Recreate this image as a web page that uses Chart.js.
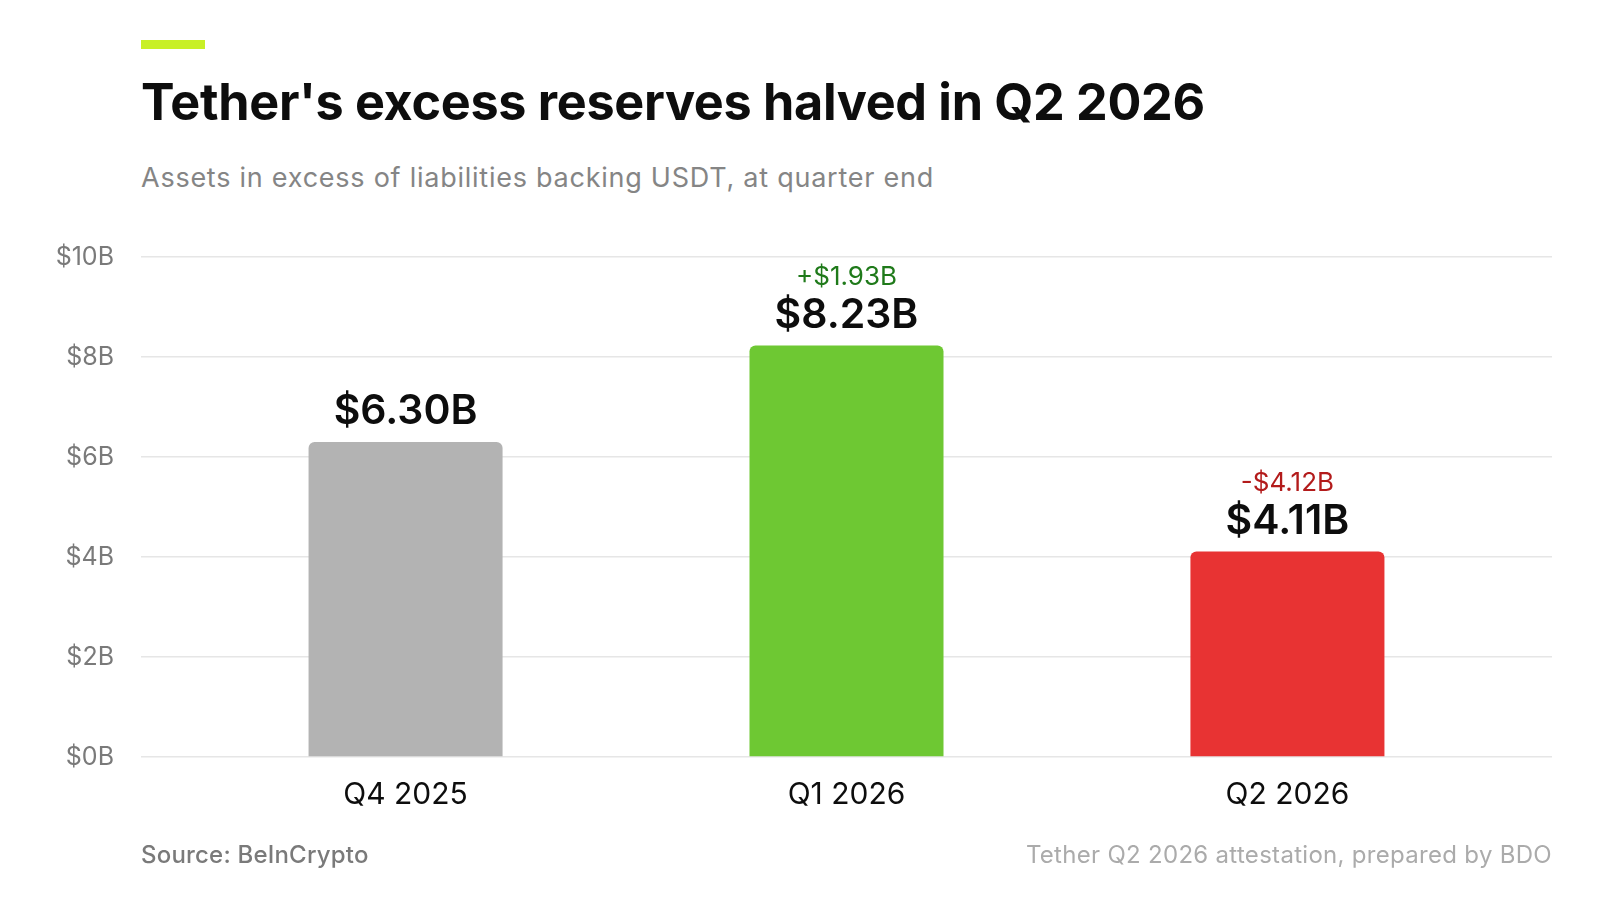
<!DOCTYPE html>
<html>
<head>
<meta charset="utf-8">
<script src="https://cdn.jsdelivr.net/npm/chart.js@4.4.1/dist/chart.umd.min.js"></script>
<style>
  html, body { margin: 0; padding: 0; background: #fff; }
  body { width: 1600px; height: 900px; position: relative; overflow: hidden; font-family: Inter, 'Noto Sans', sans-serif; }
  .accent { position: absolute; left: 141px; top: 40px; width: 64px; height: 9px; background: #c8f026; }
  .title { position: absolute; left: 141px; top: 72px; font-size: 50.3px; font-weight: 700; color: #0d0d0d; line-height: 60px; letter-spacing: -0.3px; white-space: nowrap; }
  .subtitle { position: absolute; left: 141px; top: 162px; font-size: 27px; color: #858585; line-height: 32px; letter-spacing: 0.75px; white-space: nowrap; }
  .source { position: absolute; left: 141px; top: 841px; font-size: 24px; font-weight: 500; color: #7a7a7a; line-height: 28px; letter-spacing: 0.2px; }
  .note { position: absolute; right: 48px; top: 841px; font-size: 24px; color: #ababab; line-height: 28px; letter-spacing: 0.3px; }
  #wrap { position: absolute; left: 0; top: 0; width: 1600px; height: 900px; }
</style>
</head>
<body>
<div class="accent"></div>
<div class="title">Tether's excess reserves halved in Q2 2026</div>
<div class="subtitle">Assets in excess of liabilities backing USDT, at quarter end</div>
<div id="wrap"><canvas id="c"></canvas></div>
<div class="source">Source: BeInCrypto</div>
<div class="note">Tether Q2 2026 attestation, prepared by BDO</div>

<script>
// ── DATA ────────────────────────────────────────────────────
const quarters = ['Q4 2025', 'Q1 2026', 'Q2 2026'];
const reserves = [6.30, 8.23, 4.11];          // $B at quarter end
const changes  = [null, 1.93, -4.12];         // $B vs previous quarter
const barColors = ['#b3b3b3', '#6ec833', '#e83333'];
const yTicks = [0, 2, 4, 6, 8, 10];

const upColor = '#1f7a1a', downColor = '#b31b1b';
const fmtB = v => '$' + v.toFixed(2) + 'B';

// ── VALUE LABELS ABOVE BARS ─────────────────────────────────
const barLabels = {
  id: 'barLabels',
  afterDatasetsDraw(chart) {
    const ctx = chart.ctx;
    const meta = chart.getDatasetMeta(0);
    ctx.save();
    ctx.textAlign = 'center';
    ctx.textBaseline = 'alphabetic';
    meta.data.forEach((bar, i) => {
      ctx.fillStyle = '#0d0d0d';
      ctx.font = '600 41px Inter, sans-serif';
      ctx.fillText(fmtB(reserves[i]), bar.x, bar.y - 18);
      const d = changes[i];
      if (d !== null) {
        ctx.font = '400 26px Inter, sans-serif';
        ctx.fillStyle = d >= 0 ? upColor : downColor;
        ctx.fillText((d >= 0 ? '+$' : '-$') + Math.abs(d).toFixed(2) + 'B', bar.x, bar.y - 61);
      }
    });
    ctx.restore();
  }
};

// ── CHART ───────────────────────────────────────────────────
new Chart(document.getElementById('c'), {
  type: 'bar',
  data: {
    datasets: [{
      data: reserves.map((v, i) => ({ x: i, y: v })),
      backgroundColor: barColors,
      borderRadius: { topLeft: 6, topRight: 6, bottomLeft: 0, bottomRight: 0 },
      borderSkipped: false,
      barPercentage: 0.44,
      categoryPercentage: 1
    }]
  },
  options: {
    responsive: true, maintainAspectRatio: false, animation: false,
    layout: { padding: { top: 257, right: 48, left: 0, bottom: 0 } },
    plugins: { legend: { display: false }, tooltip: { enabled: false } },
    scales: {
      x: {
        type: 'linear', min: -0.6, max: 2.6, offset: false,
        afterFit: s => { s.height = 143; },
        afterBuildTicks: s => { s.ticks = quarters.map((q, i) => ({ value: i })); },
        grid: { display: false },
        border: { display: false },
        ticks: {
          color: '#0d0d0d', padding: 12, maxRotation: 0, autoSkip: false,
          font: { family: 'Inter', size: 30, weight: '400' },
          callback: v => quarters[v] ?? ''
        }
      },
      y: {
        min: 0, max: 10,
        afterFit: s => { s.width = 141; },
        afterBuildTicks: s => { s.ticks = yTicks.map(v => ({ value: v })); },
        grid: { color: '#e6e6e6', lineWidth: 1.5, drawTicks: false },
        border: { display: false },
        ticks: {
          color: '#7a7a7a', padding: 27,
          font: { family: 'Inter', size: 25, weight: '400' },
          callback: v => '$' + v + 'B'
        }
      }
    }
  },
  plugins: [barLabels]
});
</script>
</body>
</html>
